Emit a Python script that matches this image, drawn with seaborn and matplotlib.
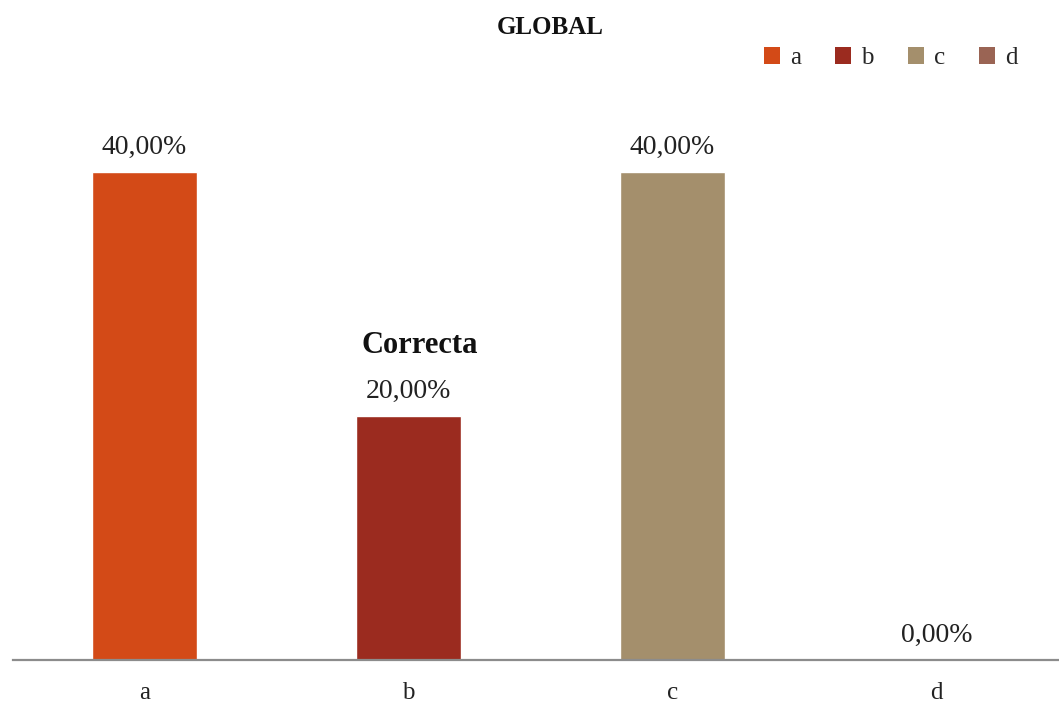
import matplotlib
matplotlib.use("Agg")
import matplotlib.pyplot as plt
import seaborn as sns
import pandas as pd
from matplotlib.patches import Patch

categories = ["a", "b", "c", "d"]
values = [0.40, 0.20, 0.40, 0.00]
labels = ["40,00%", "20,00%", "40,00%", "0,00%"]
colors = ["#D34A17", "#9B2B1F", "#A48F6C", "#9A6454"]
title = "GLOBAL"
note = "Correcta"
note_cat = "b"

sns.set_theme(style="white")
plt.rcParams["font.family"] = ["Liberation Serif", "DejaVu Serif"]

df = pd.DataFrame({"cat": categories, "val": values})

fig = plt.figure(figsize=(10.59, 7.06), dpi=100)
ax = fig.add_axes([12.5 / 1059, 46 / 706, 1056 / 1059, 610 / 706])
sns.barplot(data=df, x="cat", y="val", hue="cat", palette=colors, width=0.4,
            legend=False, ax=ax, saturation=1)
ax.set_ylim(0, 0.5)
ax.set_xlim(-0.5, 3.5)
for s in ["top", "right", "left"]:
    ax.spines[s].set_visible(False)
ax.spines["bottom"].set_color("#8c8c8c")
ax.spines["bottom"].set_linewidth(1.6)
ax.set_yticks([])
ax.set_xlabel("")
ax.set_ylabel("")
ax.tick_params(axis="x", length=0, pad=16, labelsize=18, labelcolor="#222222")

for i, (v, lab) in enumerate(zip(values, labels)):
    ax.annotate(lab, (i, v), xytext=(0, 9), textcoords="offset points",
                ha="center", va="bottom", fontsize=20, color="#222222")
ni = categories.index(note_cat)
ax.annotate(note, (ni, values[ni]), xytext=(8, 40), textcoords="offset points",
            ha="center", va="bottom", fontsize=22, fontweight="bold", color="#111111")

fig.text(550 / 1059, 1 - 27 / 706, title, ha="center", va="center",
         fontsize=18, fontweight="bold", color="#111111")

handles = [Patch(facecolor=c, edgecolor="none") for c in colors]
fig.legend(handles, categories, loc="center right", bbox_to_anchor=(1040 / 1059, 1 - 58 / 706),
           ncol=4, frameon=False, fontsize=18, handlelength=0.65, handleheight=0.65,
           handletextpad=0.4, columnspacing=1.35)

fig.savefig("out.png", dpi=100, facecolor="white")
